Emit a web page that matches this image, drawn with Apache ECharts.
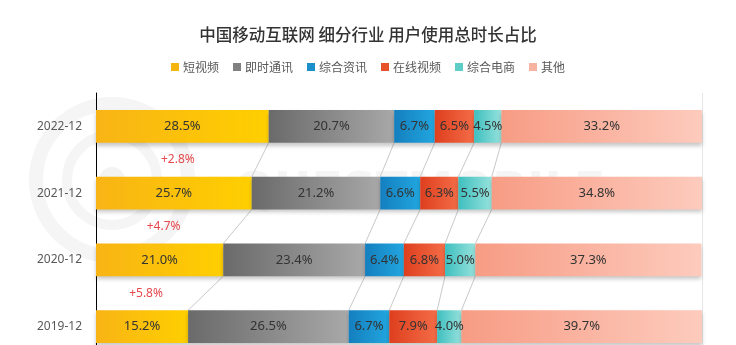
<!DOCTYPE html>
<html>
<head>
<meta charset="utf-8">
<style>
  html, body { margin: 0; padding: 0; background: #ffffff; overflow: hidden; }
  #chart { width: 736px; height: 360px; }
</style>
<script src="https://cdn.jsdelivr.net/npm/echarts@6/dist/echarts.min.js"></script>
</head>
<body>
<div id="chart"></div>
<script>
// Years, bottom to top on the category axis
const years = ['2019-12', '2020-12', '2021-12', '2022-12'];

// Share of total usage time (%) per industry, same order as years
const shortVideo = [15.2, 21.0, 25.7, 28.5];
const instantMsg = [26.5, 23.4, 21.2, 20.7];
const newsInfo   = [6.7, 6.4, 6.6, 6.7];
const onlineVideo = [7.9, 6.8, 6.3, 6.5];
const eCommerce  = [4.0, 5.0, 5.5, 4.5];
const others     = [39.7, 37.3, 34.8, 33.2];

const seriesNames = ['短视频', '即时通讯', '综合资讯', '在线视频', '综合电商', '其他'];
const seriesValues = [shortVideo, instantMsg, newsInfo, onlineVideo, eCommerce, others];

const gradients = [
  ['#f8b415', '#ffcf00'],
  ['#6a6a6a', '#a8a8a8'],
  ['#147fbf', '#22a6df'],
  ['#de3f1e', '#f46c47'],
  ['#3ebfbf', '#96e2dc'],
  ['#f79c84', '#fdcbbd']
];
const legendColors = ['#f5b50f', '#808080', '#1a8fcc', '#e8522b', '#5ccdc9', '#f8b3a0'];

const BAR_RATIO = 0.49;
const FONT = '"Noto Sans", "Noto Sans CJK SC", sans-serif';

// cumulative boundaries per year
const cumulative = years.map((_, yi) => {
  let acc = 0;
  return seriesValues.slice(0, 5).map(arr => (acc += arr[yi]));
});

// connector lines between segment boundaries of neighbouring years
const linkData = [];
for (let yi = 0; yi < years.length - 1; yi++) {
  for (let k = 0; k < 5; k++) {
    linkData.push([cumulative[yi + 1][k], yi + 1, cumulative[yi][k], yi]);
  }
}

// short-video growth between neighbouring years
const growthData = [];
for (let yi = 0; yi < years.length - 1; yi++) {
  const delta = (shortVideo[yi + 1] - shortVideo[yi]).toFixed(1);
  growthData.push([shortVideo[yi] / 2, yi, '+' + delta + '%']);
}

const barSeries = seriesNames.map((name, i) => ({
  name: name,
  type: 'bar',
  stack: 'total',
  barWidth: (BAR_RATIO * 100) + '%',
  data: seriesValues[i],
  z: 3,
  itemStyle: {
    color: new echarts.graphic.LinearGradient(0, 0, 1, 0, [
      { offset: 0, color: gradients[i][0] },
      { offset: 1, color: gradients[i][1] }
    ]),
    shadowColor: 'rgba(0,0,0,0.22)',
    shadowBlur: 4,
    shadowOffsetY: 3
  },
  label: {
    show: true,
    position: 'inside',
    formatter: p => p.value.toFixed(1) + '%',
    color: '#333333',
    fontSize: 13,
    fontFamily: FONT
  }
}));

const option = {
  backgroundColor: '#ffffff',
  animation: false,
  title: {
    text: '中国移动互联网 细分行业 用户使用总时长占比',
    left: 'center',
    top: 21,
    textStyle: {
      fontFamily: '"Noto Sans CJK SC", sans-serif',
      fontSize: 16.5,
      fontWeight: 500,
      color: '#333333'
    }
  },
  legend: {
    top: 56,
    left: 'center',
    icon: 'rect',
    itemWidth: 8,
    itemHeight: 8,
    itemGap: 14,
    textStyle: {
      fontFamily: '"Noto Sans CJK SC", sans-serif',
      fontSize: 12,
      color: '#595959',
      padding: [0, 0, 0, -1]
    },
    data: seriesNames.map((n, i) => ({ name: n, itemStyle: { color: legendColors[i] } }))
  },
  grid: { left: 96, top: 93, right: 34, bottom: 0, containLabel: false },
  xAxis: {
    type: 'value',
    min: 0,
    max: 100,
    show: false
  },
  yAxis: {
    type: 'category',
    data: years,
    axisLine: { show: true, lineStyle: { color: '#000000', width: 1 } },
    axisTick: { show: false },
    axisLabel: {
      fontFamily: FONT,
      fontSize: 12,
      color: '#595959',
      margin: 14
    }
  },
  graphic: [
    // faint ring watermark
    { type: 'circle', shape: { cx: 112, cy: 180, r: 76 }, silent: true, z: -10,
      style: { fill: 'none', stroke: '#f5f5f5', lineWidth: 14 } },
    { type: 'circle', shape: { cx: 112, cy: 180, r: 45 }, silent: true, z: -10,
      style: { fill: 'none', stroke: '#f5f5f5', lineWidth: 10 } },
    { type: 'circle', shape: { cx: 112, cy: 180, r: 13 }, silent: true, z: -10,
      style: { fill: '#f3f3f3' } },
    { type: 'text', left: 235, top: 170, silent: true, z: -10,
      style: { text: 'QUESTMOBILE', fill: '#f5f5f5', font: 'bold 46px "DejaVu Sans", sans-serif' } },
    // right frame line
    { type: 'line', shape: { x1: 702.5, y1: 93, x2: 702.5, y2: 360 }, silent: true, z: -5,
      style: { stroke: '#e6e6e6', lineWidth: 1 } }
  ],
  series: barSeries.concat([
    {
      type: 'custom',
      name: 'links',
      silent: true,
      z: 2,
      data: linkData,
      renderItem: function (params, api) {
        const band = api.size([0, 1])[1];
        const half = band * BAR_RATIO / 2;
        const p1 = api.coord([api.value(0), api.value(1)]);
        const p2 = api.coord([api.value(2), api.value(3)]);
        return {
          type: 'line',
          shape: { x1: p1[0], y1: p1[1] + half, x2: p2[0], y2: p2[1] - half },
          style: { stroke: '#c9c9c9', lineWidth: 1 }
        };
      }
    },
    {
      type: 'custom',
      name: 'growth',
      silent: true,
      z: 4,
      data: growthData,
      renderItem: function (params, api) {
        const band = api.size([0, 1])[1];
        const p = api.coord([api.value(0), api.value(1)]);
        return {
          type: 'text',
          style: {
            x: p[0] + 4,
            y: p[1] - band / 2,
            text: growthData[params.dataIndex][2],
            fill: '#e5484d',
            font: '12px "Noto Sans", sans-serif',
            textAlign: 'center',
            textVerticalAlign: 'middle'
          }
        };
      }
    }
  ])
};

const chart = echarts.init(document.getElementById('chart'), null, { renderer: 'canvas' });
chart.setOption(option);
</script>
</body>
</html>
